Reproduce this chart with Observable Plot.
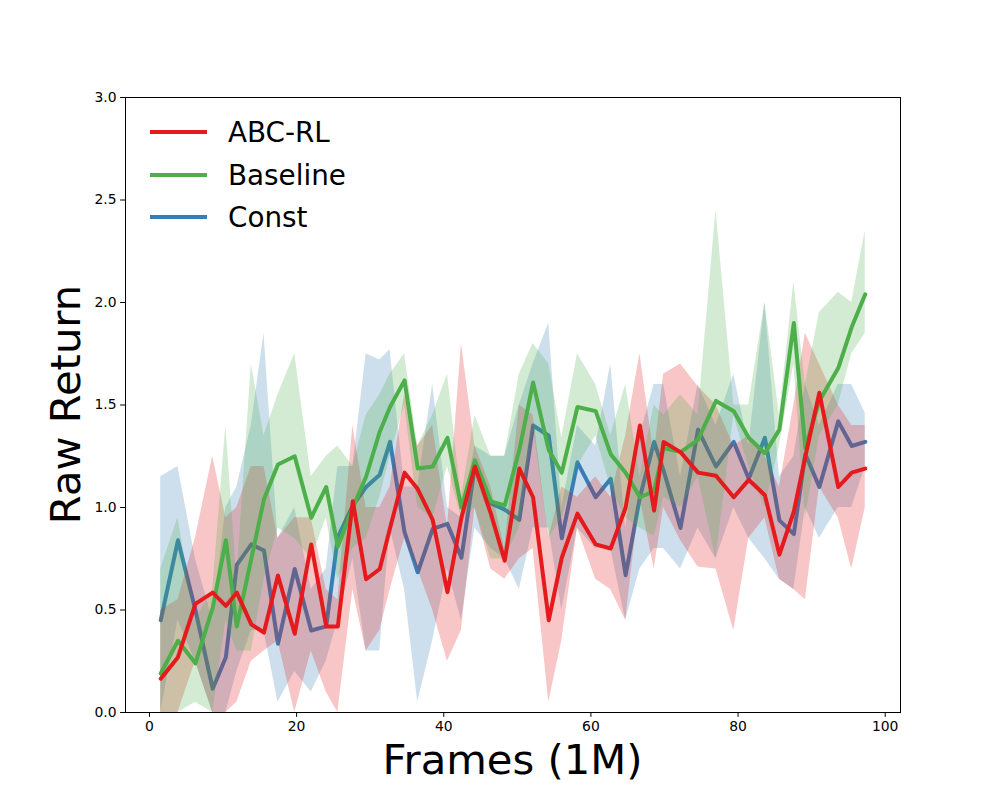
<!DOCTYPE html>
<html><head><meta charset="utf-8">
<script src="https://cdn.jsdelivr.net/npm/d3@7"></script>
<script src="https://cdn.jsdelivr.net/npm/@observablehq/plot@0.6"></script>
<style>body{margin:0;background:#fff;} #chart{width:1000px;height:800px;}</style>
</head><body><div id="chart"></div>
<script>
const frames = [1.53, 3.87, 6.24, 8.59, 10.38, 11.87, 13.84, 15.56, 17.46, 19.74, 21.98, 24.02, 25.60, 27.64, 29.44, 31.30, 32.70, 34.67, 36.46, 38.49, 40.50, 42.40, 44.23, 46.40, 48.28, 50.27, 52.14, 54.27, 56.04, 58.17, 60.65, 62.69, 64.72, 66.66, 68.59, 69.88, 72.18, 74.56, 77.00, 79.42, 81.45, 83.65, 85.62, 87.58, 89.15, 91.05, 93.62, 95.45, 97.29];

const abcMean = [0.165, 0.27, 0.53, 0.585, 0.52, 0.585, 0.43, 0.39, 0.668, 0.384, 0.82, 0.42, 0.42, 1.03, 0.65, 0.70, 0.90, 1.17, 1.09, 0.94, 0.587, 0.95, 1.20, 0.97, 0.74, 1.19, 1.05, 0.45, 0.755, 0.97, 0.82, 0.80, 1.00, 1.40, 0.985, 1.32, 1.27, 1.17, 1.155, 1.05, 1.135, 1.06, 0.77, 0.98, 1.25, 1.56, 1.10, 1.17, 1.19];
const abcLo = [0.0, 0.0, 0.25, 0.0, 0.0, 0.05, 0.25, 0.3, 0.35, 0.0, 0.3, 0.1, 0.0, 0.6, 0.3, 0.4, 0.6, 0.85, 0.7, 0.5, 0.25, 0.4, 1.0, 0.7, 0.65, 0.75, 0.8, 0.05, 0.35, 0.9, 0.65, 0.6, 0.45, 1.05, 0.7, 1.0, 0.84, 0.71, 0.7, 0.4, 0.85, 0.95, 0.65, 0.6, 0.55, 1.1, 0.95, 0.7, 1.0];
const abcHi = [0.5, 0.55, 0.85, 1.25, 0.95, 1.0, 1.2, 1.2, 0.85, 0.95, 0.95, 0.6, 0.55, 1.4, 1.0, 1.0, 1.1, 1.55, 1.3, 1.4, 0.9, 1.8, 1.3, 1.1, 0.8, 1.5, 1.45, 0.85, 1.1, 1.05, 1.15, 1.05, 1.35, 1.75, 1.25, 1.65, 1.70, 1.59, 1.5, 1.3, 1.35, 1.25, 1.1, 1.5, 1.85, 1.7, 1.5, 1.4, 1.4];

const baseMean = [0.19, 0.35, 0.24, 0.51, 0.84, 0.42, 0.75, 1.04, 1.21, 1.25, 0.95, 1.10, 0.81, 1.00, 1.15, 1.37, 1.49, 1.62, 1.19, 1.20, 1.34, 1.00, 1.23, 1.03, 1.01, 1.28, 1.61, 1.28, 1.17, 1.49, 1.47, 1.26, 1.17, 1.05, 1.08, 1.29, 1.27, 1.33, 1.52, 1.47, 1.34, 1.265, 1.38, 1.90, 1.29, 1.52, 1.68, 1.88, 2.04];
const baseLo = [0.0, 0.0, 0.05, 0.0, 0.45, 0.3, 0.3, 0.65, 0.9, 0.85, 0.75, 0.95, 0.65, 0.8, 0.85, 1.05, 1.25, 1.5, 1.0, 0.95, 1.2, 0.95, 1.0, 0.75, 0.75, 0.9, 1.4, 0.85, 0.95, 1.2, 1.35, 1.1, 0.95, 0.9, 0.86, 1.05, 1.0, 1.15, 0.75, 1.45, 1.2, 1.0, 1.3, 1.7, 0.95, 1.35, 1.5, 1.75, 1.85];
const baseHi = [0.7, 0.95, 0.45, 0.6, 1.4, 0.65, 1.7, 1.35, 1.55, 1.75, 1.15, 1.25, 1.3, 1.2, 1.45, 1.55, 1.65, 1.75, 1.3, 1.45, 1.65, 1.05, 1.45, 1.25, 1.25, 1.65, 1.8, 1.7, 1.34, 1.75, 1.6, 1.35, 1.6, 1.15, 1.5, 1.45, 1.55, 1.45, 2.45, 1.5, 1.5, 2.0, 1.45, 2.1, 1.6, 1.95, 2.05, 2.0, 2.35];

const constMean = [0.45, 0.84, 0.50, 0.116, 0.27, 0.72, 0.82, 0.79, 0.335, 0.70, 0.40, 0.42, 0.855, 1.01, 1.10, 1.16, 1.32, 0.88, 0.684, 0.896, 0.92, 0.755, 1.20, 1.02, 0.99, 0.94, 1.40, 1.35, 0.85, 1.22, 1.05, 1.14, 0.67, 1.05, 1.32, 1.18, 0.90, 1.38, 1.20, 1.32, 1.14, 1.34, 0.937, 0.87, 1.26, 1.10, 1.42, 1.30, 1.32];
const constLo = [0.0, 0.45, 0.25, 0.0, 0.0, 0.2, 0.4, 0.4, 0.05, 0.2, 0.1, 0.25, 0.45, 0.75, 0.3, 0.3, 0.9, 0.6, 0.05, 0.35, 0.7, 0.45, 0.9, 0.8, 0.75, 0.6, 0.9, 0.9, 0.5, 0.9, 0.8, 0.8, 0.45, 0.7, 0.8, 0.8, 0.7, 0.9, 0.75, 1.0, 0.85, 0.75, 0.65, 0.6, 1.0, 0.85, 1.0, 1.0, 1.2];
const constHi = [1.15, 1.20, 0.75, 0.45, 1.0, 1.1, 1.4, 1.85, 0.85, 1.0, 0.6, 0.7, 1.2, 1.2, 1.75, 1.72, 1.77, 1.1, 1.1, 1.6, 1.0, 0.95, 1.3, 1.25, 1.25, 1.5, 1.7, 1.9, 1.0, 1.4, 1.3, 1.7, 0.9, 1.35, 1.6, 1.6, 1.15, 1.6, 1.4, 1.65, 1.3, 2.0, 1.15, 1.25, 1.6, 1.4, 1.6, 1.6, 1.46];

const names = ["ABC-RL", "Baseline", "Const"];
const colors = ["#e41a1c", "#4daf4a", "#377eb8"];
const xTicks = [0, 20, 40, 60, 80, 100];
const yTicks = [0, 0.5, 1.0, 1.5, 2.0, 2.5, 3.0];

const toRows = (mean, lo, hi) => frames.map((f, i) => ({x: f, y: mean[i], lo: lo[i], hi: hi[i]}));
const abc = toRows(abcMean, abcLo, abcHi);
const base = toRows(baseMean, baseLo, baseHi);
const cst = toRows(constMean, constLo, constHi);

const band = (d, c) => Plot.areaY(d, {x: "x", y1: "lo", y2: "hi", fill: c, fillOpacity: 0.25, curve: "linear"});
const line = (d, c) => Plot.line(d, {x: "x", y: "y", stroke: c, strokeWidth: 4, curve: "linear", strokeLinejoin: "round"});

const svg = Plot.plot({
  width: 1000, height: 800,
  marginLeft: 125, marginRight: 100, marginTop: 97, marginBottom: 88,
  style: {fontFamily: "DejaVu Sans", fontSize: "13.9px", color: "black", background: "white"},
  x: {domain: [-3.26, 102.08]},
  y: {domain: [0, 3]},
  marks: [
    line(cst, colors[2]),
    band(cst, colors[2]),
    band(abc, colors[0]),
    band(base, colors[1]),
    line(base, colors[1]),
    line(abc, colors[0]),
    Plot.frame({stroke: "black", strokeWidth: 1}),
    Plot.axisX({ticks: xTicks, tickSize: 4.9, tickPadding: 4, label: null, tickFormat: d3.format("d")}),
    Plot.axisY({ticks: yTicks, tickSize: 4.9, tickPadding: 4, label: null, tickFormat: d3.format(".1f")})
  ]
});
document.getElementById("chart").appendChild(svg);

const s = d3.select(svg);
s.append("text").attr("x", 512.5).attr("y", 774).attr("text-anchor", "middle")
  .attr("font-family", "DejaVu Sans").attr("font-size", 41.7).attr("fill", "black").text("Frames (1M)");
s.append("text").attr("transform", "translate(80,404.5) rotate(-90)").attr("text-anchor", "middle")
  .attr("font-family", "DejaVu Sans").attr("font-size", 41.7).attr("fill", "black").text("Raw Return");

const legY = [132, 175, 217];
names.forEach((n, i) => {
  s.append("line").attr("x1", 150).attr("x2", 207).attr("y1", legY[i]).attr("y2", legY[i])
    .attr("stroke", colors[i]).attr("stroke-width", 4);
  s.append("text").attr("x", 228).attr("y", legY[i] + 10).attr("text-anchor", "start").attr("font-family", "DejaVu Sans")
    .attr("font-size", 27.8).attr("fill", "black").text(n);
});
</script>
</body></html>
